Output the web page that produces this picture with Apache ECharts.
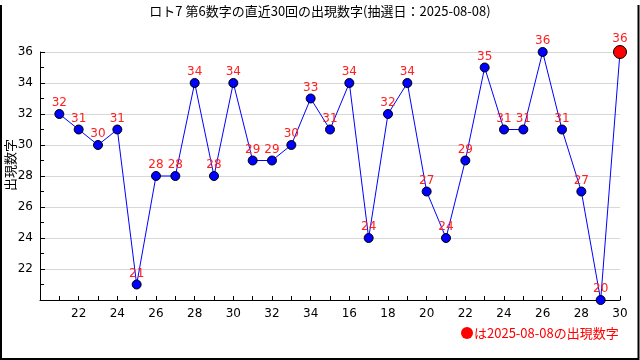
<!DOCTYPE html>
<html><head><meta charset="utf-8">
<script src="https://cdn.jsdelivr.net/npm/echarts@6/dist/echarts.min.js"></script>
<style>html,body{margin:0;padding:0;background:#fff}#c{width:640px;height:360px}</style>
</head><body><div id="c"></div>
<script>
var titleText = 'ロト7 第6数字の直近30回の出現数字(抽選日：2025-08-08)';
var yName = '出現数字';
var legendText = 'は2025-08-08の出現数字';
// x categories (index 0 is the empty slot at the axis origin)
var categories = ['', '21','22','23','24','25','26','27','28','29','30','31','32','33','34','15','16','17','18','19','20','21','22','23','24','25','26','27','28','29','30'];
var values = [32,31,30,31,21,28,28,34,28,34,29,29,30,33,31,34,24,32,34,27,24,29,35,31,31,36,31,27,20,36];
var yTicks = [22,24,26,28,30,32,34,36];

var font = '"DejaVu Sans","Noto Sans CJK JP",sans-serif';
var seriesData = [null].concat(values.map(function(v, i){
  if (i === values.length - 1) {
    return {value: v, symbolSize: 13, itemStyle: {color: '#ff0000', borderColor: '#000', borderWidth: 1}};
  }
  return v;
}));

var chart = echarts.init(document.getElementById('c'), null, {renderer: 'canvas'});
chart.setOption({
  animation: false,
  backgroundColor: '#fff',
  title: {
    text: titleText, left: 'center', top: 0,
    textStyle: {fontSize: 13, fontWeight: 'normal', color: '#000', fontFamily: '"Noto Sans CJK JP",sans-serif'}
  },
  grid: {left: 40, right: 20, top: 52, bottom: 60, containLabel: false},
  xAxis: {
    type: 'category', data: categories, boundaryGap: false,
    axisLine: {lineStyle: {color: '#000', width: 1}},
    axisTick: {inside: true, length: 4, interval: 0, lineStyle: {color: '#000'}},
    axisLabel: {interval: 1, color: '#000', fontSize: 12, margin: 8, fontFamily: font,
      formatter: function(v, i){ return i === 0 ? '' : v; }},
    splitLine: {show: false}
  },
  yAxis: {
    type: 'value', min: 20, max: 36, interval: 2,
    axisLine: {show: true, lineStyle: {color: '#000', width: 1}},
    axisTick: {show: true, inside: true, length: 5, lineStyle: {color: '#000'}},
    minorTick: {show: true, splitNumber: 2, length: 4, lineStyle: {color: '#000'}},
    axisLabel: {color: '#000', fontSize: 12, margin: 7, fontFamily: font,
      formatter: function(v){ return yTicks.indexOf(v) >= 0 ? String(v) : ''; }},
    splitLine: {show: true, lineStyle: {color: '#d8d8d8', width: 1}}
  },
  series: [{
    type: 'line', data: seriesData, connectNulls: false,
    symbol: 'circle', symbolSize: 9, showAllSymbol: true,
    lineStyle: {color: '#0000ff', width: 1},
    itemStyle: {color: '#0000ff', borderColor: '#000', borderWidth: 1},
    label: {show: true, position: 'top', distance: 0, color: '#ff2020', fontSize: 12, fontFamily: font},
    z: 3
  }],
  graphic: [
    {type: 'text', x: 10, y: 165, rotation: Math.PI/2,
     style: {text: yName, fill: '#000', font: '13px "Noto Sans CJK JP"', align: 'center', verticalAlign: 'middle'}},
    {type: 'circle', shape: {cx: 467, cy: 333, r: 6}, style: {fill: '#ff0000'}},
    {type: 'text', x: 474, y: 333, style: {text: legendText, fill: '#ff0000', font: '13px "Noto Sans CJK JP"', verticalAlign: 'middle'}},
    {type: 'polyline', shape: {points: [[1,5],[1,359],[638.5,359],[638.5,5]]}, style: {stroke: '#000', lineWidth: 2, fill: null}}
  ]
});
</script>
</body></html>
